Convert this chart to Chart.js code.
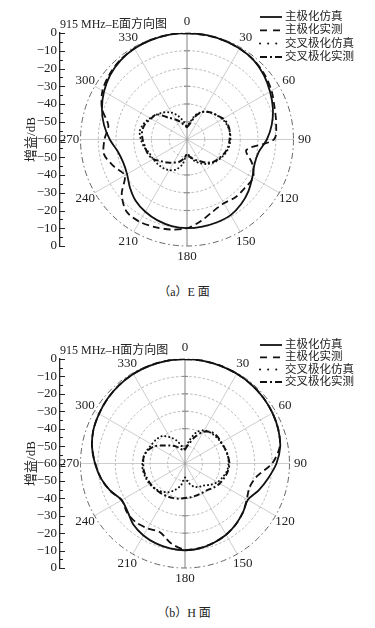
<!DOCTYPE html>
<html>
<head>
<meta charset="utf-8">
<script src="https://cdn.jsdelivr.net/npm/chart.js@4.4.1/dist/chart.umd.min.js"></script>
<style>
  html, body { margin: 0; padding: 0; background: #fff; }
  body { width: 375px; height: 628px; position: relative; overflow: hidden;
         font-family: "Liberation Serif", "DejaVu Serif", "Noto Sans CJK SC", serif; }
  canvas { position: absolute; left: 0; }
  #chartE { top: 0; }
  #chartH { top: 320px; }
  .caption { position: absolute; left: 0; width: 368px; text-align: center; font-size: 12px;
             line-height: 14px; color: #222; }
</style>
</head>
<body>
<canvas id="chartE" width="375" height="280"></canvas>
<div class="caption" style="top:285px">（a）E 面</div>
<canvas id="chartH" width="375" height="270"></canvas>
<div class="caption" style="top:606px">（b）H 面</div>

<script>
const FONT = '"Liberation Serif", "DejaVu Serif", "Noto Sans CJK SC", serif';

// measurement angles (deg, clockwise from top)
const ANGLES = [0, 10, 20, 30, 40, 50, 60, 70, 80, 90,
  100, 110, 120, 130, 140, 150, 160, 170, 180, 190,
  200, 210, 220, 230, 240, 250, 260, 270, 280, 290,
  300, 310, 320, 330, 340, 350];

const SERIES_NAMES = ["主极化仿真", "主极化实测", "交叉极化仿真", "交叉极化实测"];

// E plane, gain in dB
const E_CO_SIM = [0, -0.2, -0.4, -0.8, -1.6, -3.5, -6, -8.5, -11.5, -15,
  -19, -19.5, -17.5, -14.8, -12.5, -10.8, -10.4, -10.2, -10.1, -10.5,
  -11.5, -13, -15, -18, -21, -21.8, -20.5, -16.5, -12.5, -9,
  -6, -3.5, -1.8, -0.8, -0.4, -0.1];
const E_CO_MEAS = [0, -0.3, -0.5, -0.8, -1.5, -3, -5, -7.5, -9, -11,
  -26, -21, -17, -17.5, -17.5, -18.5, -17, -13.5, -10, -8.5,
  -7.5, -6.5, -7, -12, -19.5, -16, -12.5, -13.5, -15, -9,
  -5, -3, -1.5, -0.8, -0.3, -0.1];
const E_X_SIM = [-53, -50, -45, -42, -40, -38.5, -37, -36, -35.5, -35.5,
  -36, -37, -38.5, -40, -42, -44.5, -47, -50, -52, -46,
  -42, -40, -39, -38.5, -38, -37.5, -35.5, -34, -33, -34,
  -36, -38, -40, -42.5, -46, -50];
const E_X_MEAS = [-53, -51, -46, -42, -40, -38.5, -36.5, -35.5, -35.5, -36,
  -36.5, -37.5, -39, -40.5, -43, -46, -48, -50, -51.5, -49,
  -46.5, -45, -43, -41, -38, -36.5, -36, -35, -34.3, -34.8,
  -36.5, -38, -44, -47, -49.5, -52];

// H plane, gain in dB
const H_CO_SIM = [0, -0.1, -0.3, -0.5, -0.8, -1.3, -2, -3, -4.5, -7.5,
  -11.5, -15, -18.3, -16.5, -14.5, -12.8, -11.6, -10.5, -10.2, -10.5,
  -11.2, -12.3, -14, -17, -18, -14.3, -11, -8.3, -5.8, -4,
  -3, -2, -1.2, -0.6, -0.3, -0.1];
const H_CO_MEAS = [0, -0.1, -0.3, -0.5, -0.8, -1.3, -2, -3, -4.8, -10,
  -18, -20.5, -19, -16.5, -14.5, -12.8, -11.6, -10.8, -10.5, -13.5,
  -18, -17, -16, -16.5, -18, -14.3, -11, -8.5, -5.8, -4,
  -3, -2, -1.2, -0.6, -0.3, -0.1];
const H_X_SIM = [-52, -47, -41, -38, -37, -36.5, -36, -35.5, -35, -35,
  -35.5, -37, -38.5, -41, -43.5, -44.5, -46, -49, -52, -47.5,
  -44, -41, -39, -37.5, -36.5, -36, -35.5, -35.5, -36, -37,
  -38, -38.5, -39.5, -42.5, -46, -50];
const H_X_MEAS = [-52, -49, -44, -39, -36.5, -35.8, -36, -35.5, -35, -34.5,
  -35, -36, -37, -38.5, -40, -40.5, -40.5, -40.3, -40.2, -39.5,
  -39, -38.5, -38, -37.5, -37, -36.5, -36, -36, -36, -37.5,
  -40, -44, -46.5, -48.5, -50.5, -52];

const RING_LEVELS = [-50, -40, -30, -20, -10, 0];
const ANGLE_LABELS = [0, 30, 60, 90, 120, 150, 180, 210, 240, 270, 300, 330];

const SERIES_STYLE = [
  { width: 1.8, dash: [], cap: "butt", legendDash: [] },
  { width: 1.8, dash: [7, 4], cap: "butt", legendDash: [7, 6] },
  { width: 2, dash: [0.1, 3.8], cap: "round", legendDash: [0.1, 8] },
  { width: 2, dash: [6, 2.5, 2, 2.5], cap: "butt", legendDash: [7, 3, 2, 3] }
];

const AXIS_X = 60;      // pixel x of the gain axis
const PAD_LEFT = 24;

function toPoints(gains) {
  const pts = ANGLES.map((a, i) => {
    const r = Math.max(gains[i] + 60, 0);
    const t = a * Math.PI / 180;
    return { x: r * Math.sin(t), y: r * Math.cos(t) };
  });
  pts.push(pts[0]);
  return pts;
}

const polarDecor = {
  id: "polarDecor",
  beforeDatasetsDraw(chart) {
    const { ctx, scales: { x, y } } = chart;
    const cx = x.getPixelForValue(0), cy = y.getPixelForValue(0);
    const k = (y.getPixelForValue(0) - y.getPixelForValue(60)) / 60;
    const R = 60 * k;
    ctx.save();
    RING_LEVELS.forEach((level) => {
      ctx.beginPath();
      ctx.arc(cx, cy, (level + 60) * k, 0, Math.PI * 2);
      if (level === 0) {
        ctx.strokeStyle = "#555"; ctx.lineWidth = 0.9; ctx.setLineDash([6, 3, 1.5, 3]);
      } else {
        ctx.strokeStyle = "#9a9a9a"; ctx.lineWidth = 0.7; ctx.setLineDash([2.5, 2]);
      }
      ctx.stroke();
    });
    ctx.setLineDash([]);
    ANGLE_LABELS.filter((a) => a % 180 !== 0).forEach((a) => {
      const t = a * Math.PI / 180;
      ctx.beginPath();
      ctx.moveTo(cx, cy);
      ctx.lineTo(cx + R * Math.sin(t), cy - R * Math.cos(t));
      ctx.strokeStyle = "#b8b8b8"; ctx.lineWidth = 0.7; ctx.stroke();
    });
    ctx.beginPath();
    ctx.moveTo(cx, cy - R); ctx.lineTo(cx, cy + R);
    ctx.strokeStyle = "#8c8c8c"; ctx.lineWidth = 1.1; ctx.stroke();
    RING_LEVELS.filter((l) => l < 0).forEach((level) => {
      const r = (level + 60) * k;
      [-r, r].forEach((d) => {
        ctx.beginPath(); ctx.moveTo(cx - 3, cy + d); ctx.lineTo(cx + 3, cy + d); ctx.stroke();
      });
    });
    ctx.restore();
  },
  afterDraw(chart, args, opts) {
    const { ctx, chartArea, scales: { x, y } } = chart;
    const cx = x.getPixelForValue(0), cy = y.getPixelForValue(0);
    const k = (y.getPixelForValue(0) - y.getPixelForValue(60)) / 60;
    const R = 60 * k;
    ctx.save();
    // inward ticks on the gain axis
    ctx.strokeStyle = "#222"; ctx.lineWidth = 1;
    for (let v = -60; v <= 60; v += 5) {
      const py = Math.round(y.getPixelForValue(v)) + 0.5;
      ctx.beginPath();
      ctx.moveTo(chartArea.left, py);
      ctx.lineTo(chartArea.left + (v % 10 === 0 ? 5 : 3), py);
      ctx.stroke();
    }
    // angle labels
    ctx.fillStyle = "#222";
    ctx.font = "13px " + FONT;
    ctx.textAlign = "center"; ctx.textBaseline = "middle";
    ANGLE_LABELS.forEach((a) => {
      const t = a * Math.PI / 180;
      ctx.fillText(String(a), cx + (R + 11) * Math.sin(t), cy - (R + 11) * Math.cos(t));
    });
    // title
    ctx.font = "12px " + FONT;
    ctx.textAlign = "left";
    ctx.fillText(opts.title, chartArea.left, chartArea.top - 8.5);
    // legend
    ctx.font = "11.5px " + FONT;
    chart.data.datasets.forEach((ds, i) => {
      const st = SERIES_STYLE[i];
      const ly = chartArea.top + opts.legendTop + i * opts.legendStep;
      ctx.beginPath();
      ctx.setLineDash(st.legendDash);
      ctx.lineCap = st.cap;
      ctx.lineWidth = st.width;
      ctx.strokeStyle = "#111";
      ctx.moveTo(260, ly); ctx.lineTo(282, ly);
      ctx.stroke();
      ctx.setLineDash([]);
      ctx.fillText(ds.label, 285, ly);
    });
    ctx.restore();
  }
};

function makeChart(id, frame, series, title, legendTop, legendStep) {
  const canvas = document.getElementById(id);
  const W = canvas.width, H = canvas.height;
  const unit = (frame.bottom - frame.top) / 120;
  return new Chart(canvas, {
    type: "scatter",
    data: {
      datasets: series.map((gains, i) => ({
        label: SERIES_NAMES[i],
        data: toPoints(gains),
        showLine: true,
        borderColor: "#111",
        borderWidth: SERIES_STYLE[i].width,
        borderDash: SERIES_STYLE[i].dash,
        borderCapStyle: SERIES_STYLE[i].cap,
        pointRadius: 0,
        pointHoverRadius: 0,
        tension: 0.3,
        fill: false
      }))
    },
    options: {
      responsive: false,
      animation: false,
      devicePixelRatio: 1,
      events: [],
      layout: { padding: { top: frame.top, bottom: H - frame.bottom, left: PAD_LEFT, right: 0 } },
      plugins: {
        legend: { display: false },
        tooltip: { enabled: false },
        polarDecor: { title, legendTop, legendStep }
      },
      scales: {
        x: {
          type: "linear",
          display: false,
          min: -(frame.cx - AXIS_X) / unit,
          max: (W - frame.cx) / unit
        },
        y: {
          type: "linear",
          min: -60,
          max: 60,
          afterFit: (s) => { s.width = AXIS_X - PAD_LEFT; },
          border: { display: true, color: "#222", width: 1.3 },
          grid: { drawOnChartArea: false, drawTicks: false },
          ticks: {
            stepSize: 10,
            autoSkip: false,
            padding: 3,
            color: "#222",
            font: { family: FONT, size: 13 },
            callback: (v) => {
              const g = Math.abs(v) - 60;
              return g === 0 ? "0" : "\u2212" + Math.abs(g);
            }
          },
          title: {
            display: true,
            text: "增益/dB",
            padding: 0,
            color: "#222",
            font: { family: FONT, size: 13 }
          }
        }
      }
    },
    plugins: [polarDecor]
  });
}

makeChart("chartE", { top: 33, bottom: 246, cx: 187 },
  [E_CO_SIM, E_CO_MEAS, E_X_SIM, E_X_MEAS], "915 MHz\u2013E面方向图", -16, 13.3);
makeChart("chartH", { top: 39, bottom: 248, cx: 185 },
  [H_CO_SIM, H_CO_MEAS, H_X_SIM, H_X_MEAS], "915 MHz\u2013H面方向图", -14, 12.3);
</script>
</body>
</html>
